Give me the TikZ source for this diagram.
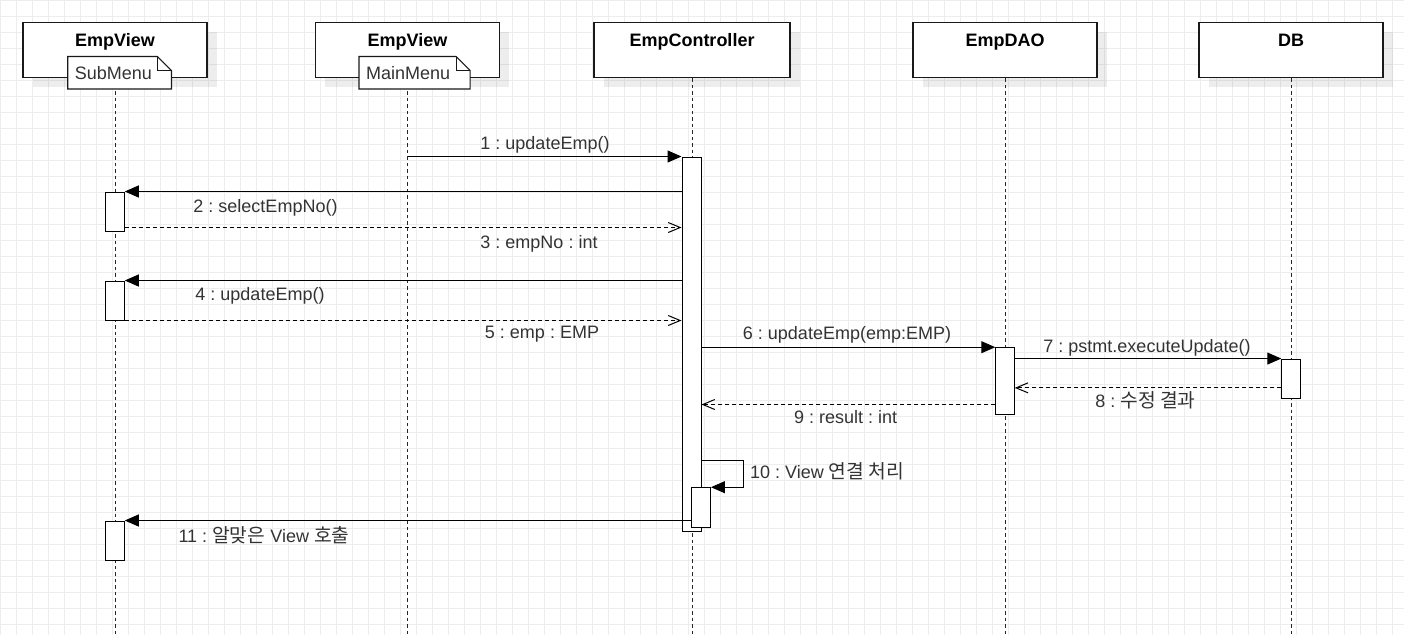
\documentclass[tikz,border=0pt]{standalone}
\usepackage{fontspec}
\setmainfont{Liberation Sans}
\newfontfamily\krfont[Scale=1.07]{Noto Sans CJK KR}
\usetikzlibrary{arrows.meta, shadows}
\definecolor{gridgray}{HTML}{EDEDED}
\definecolor{txtgray}{HTML}{333333}
\frenchspacing

\begin{document}
\begin{tikzpicture}[x=1pt, y=-1pt,
  gridline/.style={draw=gridgray, line width=0.8pt},
  head/.style={draw=black!90, line width=1.2pt, fill=white, minimum width=184pt,
    minimum height=55pt, inner sep=0pt,
    drop shadow={shadow xshift=9.5pt, shadow yshift=-9.5pt, fill=black, opacity=.07}},
  headtitle/.style={font=\bfseries\fontsize{18}{20}\selectfont, anchor=base, inner sep=0pt},
  lifeline/.style={draw=black!85, line width=1pt, dash pattern=on 3.5pt off 3pt},
  notebox/.style={fill=white, inner xsep=7pt, inner ysep=0pt, minimum height=32pt,
    text width=#1, text=txtgray, font=\fontsize{18}{20}\selectfont, anchor=west},
  noteline/.style={draw=black!90, line width=1.2pt},
  act/.style={draw=black, line width=1pt, fill=white, minimum width=18.5pt, inner sep=0pt},
  sync/.style={draw=black, line width=1pt, -{Triangle[length=14pt, width=12pt]}},
  reply/.style={draw=black, line width=1pt, dash pattern=on 4pt off 3pt,
    -{Straight Barb[length=12pt, width=10pt]}},
  lbl/.style={text=txtgray, font=\fontsize{18}{20}\selectfont, anchor=base, inner sep=0pt}
]
\useasboundingbox (0,0) rectangle (1404,635);
\coordinate (bottom) at (0,635);

% grid
\foreach \gx in {0,16,...,1400}
  \draw[gridline] (\gx,0) -- (\gx,635);
\foreach \gy in {0,16,...,630}
  \draw[gridline] (0,\gy) -- (1404,\gy);

% lifeline heads
\node[head] (subview) at (115,50.2) {};
\node[head] (mainview) at (407.5,50.2) {};
\node[head, minimum width=196pt] (ctrl) at (692,50.2) {};
\node[head] (dao) at (1005,50.2) {};
\node[head] (db) at (1291,50.2) {};
\node[headtitle] (subviewtitle) at ([yshift=-24.5pt]subview.north) {EmpView};
\node[headtitle] (mainviewtitle) at ([yshift=-24.5pt]mainview.north) {EmpView};
\node[headtitle] (ctrltitle) at ([yshift=-24.5pt]ctrl.north) {EmpController};
\node[headtitle] (daotitle) at ([yshift=-24.5pt]dao.north) {EmpDAO};
\node[headtitle] (dbtitle) at ([yshift=-24.5pt]db.north) {DB};

\draw[lifeline] (subview.south) -- (subview.south |- bottom);
\draw[lifeline] (mainview.south) -- (mainview.south |- bottom);
\draw[lifeline] (ctrl.south) -- (ctrl.south |- bottom);
\draw[lifeline] (dao.south) -- (dao.south |- bottom);
\draw[lifeline] (db.south) -- (db.south |- bottom);

% notes
\node[notebox=89.3pt] (subnote) at (67.7,72.7) {SubMenu};
\draw[noteline] (subnote.north west) -- ([xshift=-14pt]subnote.north east)
  -- ([yshift=-14pt]subnote.north east) -- (subnote.south east) -- (subnote.south west) -- cycle;
\draw[noteline] ([xshift=-14pt]subnote.north east) |- ([yshift=-14pt]subnote.north east);
\node[notebox=96.7pt] (mainnote) at (359,72.7) {MainMenu};
\draw[noteline] (mainnote.north west) -- ([xshift=-14pt]mainnote.north east)
  -- ([yshift=-14pt]mainnote.north east) -- (mainnote.south east) -- (mainnote.south west) -- cycle;
\draw[noteline] ([xshift=-14pt]mainnote.north east) |- ([yshift=-14pt]mainnote.north east);

% activations
\node[act, minimum width=19pt, minimum height=374pt] (ctrlact) at (691.5,344) {};
\node[act, minimum height=39pt] (sub1) at (115,211.5) {};
\node[act, minimum height=39pt] (sub2) at (115,300.5) {};
\node[act, minimum height=39pt] (sub3) at (115,540.5) {};
\node[act, minimum height=67pt] (daoact) at (1005,381.2) {};
\node[act, minimum height=39.3pt] (dbact) at (1291,378.7) {};
\node[act, minimum height=39.6pt] (selfact) at (701.2,507.5) {};

% messages
\coordinate (r3) at ([yshift=4pt]sub1.south east);
\coordinate (r8) at ([yshift=11pt]dbact.south west);
\coordinate (r9) at ([yshift=10.7pt]daoact.south west);
\coordinate (y10) at (0,460);
\draw[sync] (mainview.south |- ctrlact.north) -- (ctrlact.north west);
\draw[sync] (ctrlact.west |- sub1.north) -- (sub1.north east);
\draw[reply] (r3) -- (ctrlact.west |- r3);
\draw[sync] (ctrlact.west |- sub2.north) -- (sub2.north east);
\draw[reply] (sub2.south east) -- (ctrlact.west |- sub2.south);
\draw[sync] (ctrlact.east |- daoact.north) -- (daoact.north west);
\draw[sync] (daoact.east |- dbact.north) -- (dbact.north west);
\draw[reply] (r8) -- (daoact.east |- r8);
\draw[reply] (r9) -- (ctrlact.east |- r9);
\draw[sync] (ctrlact.east |- y10) -- ++(42,0) |- (selfact.north east);
\draw[sync] (selfact.west |- sub3.north) -- (sub3.north east);

\node[lbl] (m1) at (545,149) {1 : updateEmp()};
\node[lbl] (m2) at (265.5,212) {2 : selectEmpNo()};
\node[lbl] (m3) at (539,248) {3 : empNo : int};
\node[lbl] (m4) at (260,300.5) {4 : updateEmp()};
\node[lbl] (m5) at (542,338.5) {5 : emp : EMP};
\node[lbl] (m6) at (847,339) {6 : updateEmp(emp:EMP)};
\node[lbl] (m7) at (1147,352) {7 : pstmt.executeUpdate()};
\node[lbl] (m8) at (1145.5,407) {8 : {\krfont 수정 결과}};
\node[lbl] (m9) at (845.7,423) {9 : result : int};
\node[lbl, anchor=base west] (m10) at (750,478) {10 : View {\krfont 연결 처리}};
\node[lbl] (m11) at (264,542) {11 : {\krfont 알맞은} View {\krfont 호출}};
\end{tikzpicture}
\end{document}
